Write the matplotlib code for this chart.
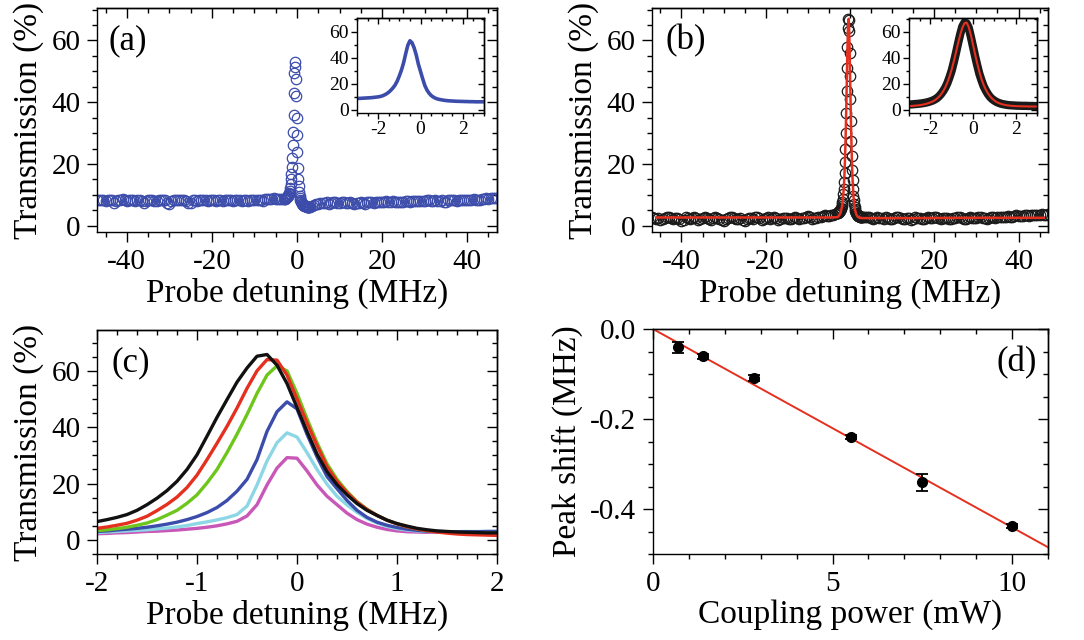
import matplotlib.pyplot as plt
import numpy as np
from matplotlib.ticker import MultipleLocator, NullFormatter, FormatStrFormatter

plt.rcParams.update({
    "font.family": "Liberation Serif",
    "axes.unicode_minus": False,
    "axes.linewidth": 1.0,
})

## parameters
fs_tick = 21
fs_lab = 24
fs_in = 14
fs_tag = 25

c_blue = "#3c4caa"
c_red = "#e5301f"

##----- data -----##

# frequency grids (MHz): coarse wings + fine core around the resonance
det_left = np.arange(-47.0, -3.4, 0.5)      # -47 ... -3.5
det_core = np.round(np.arange(-3.0, 3.05, 0.1), 1)
det_right = np.arange(3.5, 47.1, 0.5)       # 3.5 ... 47

# (a) transmission without coupling beam (%)
a_left = [8.5, 8.3, 8.2, 8.4, 8.0, 8.3, 8.4, 8.2, 7.3, 8.1,
          8.3, 8.5, 8.6, 8.2, 8.1, 8.4, 8.3, 8.2, 8.1, 8.5,
          8.4, 8.1, 7.3, 8.0, 8.2, 8.4, 8.3, 8.1, 8.0, 8.3,
          8.5, 8.2, 8.3, 7.4, 7.2, 8.1, 8.4, 8.3, 8.2, 8.4,
          8.5, 8.2, 8.1, 7.5, 7.4, 8.2, 8.3, 8.1, 8.2, 8.4,
          8.4, 8.2, 8.1, 8.3, 8.2, 8.2, 8.1, 8.4, 8.3, 8.1,
          8.2, 8.3, 8.4, 8.2, 8.1, 8.4, 8.3, 8.2, 8.1, 8.3,
          8.3, 8.1, 8.2, 8.4, 8.3, 8.3, 8.2, 8.5, 8.0, 8.6,
          8.6, 8.8, 8.7, 8.9, 8.6, 8.8, 8.6, 8.7]
a_core = [8.6, 8.7, 8.8, 8.9, 9.0, 9.1, 9.2, 9.3, 9.5, 9.7,
          9.9, 10.2, 10.7, 11.4, 12.3, 13.5, 15.0, 16.8, 19.0, 22.0,
          26.0, 30.5, 36.0, 43.0, 49.5, 53.0, 51.5, 47.5, 42.0, 35.0,
          29.5, 24.0, 18.8, 15.3, 12.8, 11.0, 9.8, 8.9, 8.3, 7.9,
          7.6, 7.3, 7.1, 6.9, 6.8, 6.7, 6.6, 6.5, 6.5, 6.4,
          6.4, 6.3, 6.3, 6.2, 6.2, 6.2, 6.1, 6.1, 6.1, 6.1,
          6.1]
a_right = [6.5, 6.8, 7.0, 7.2, 7.3, 7.4, 7.5, 7.6, 7.2, 7.4,
           7.7, 7.6, 7.5, 7.4, 7.8, 7.7, 7.4, 7.5, 7.6, 7.5,
           7.2, 7.3, 7.5, 7.6, 7.3, 7.2, 7.7, 7.6, 7.6, 7.5,
           7.8, 7.7, 7.7, 7.6, 7.8, 7.9, 7.6, 7.7, 7.9, 7.8,
           7.8, 7.7, 7.7, 7.8, 8.0, 7.9, 7.8, 7.9, 7.9, 8.0,
           8.0, 8.1, 8.1, 8.0, 8.3, 8.2, 8.0, 8.1, 8.2, 8.1,
           8.1, 8.2, 7.6, 7.7, 8.2, 8.3, 8.3, 8.2, 8.1, 8.2,
           8.4, 8.3, 8.3, 8.4, 8.5, 8.4, 8.6, 8.5, 8.4, 8.5,
           8.7, 8.8, 8.9, 8.8, 9.0, 9.0, 9.1, 9.0]

# (b) transmission with coupling beam (%) and Lorentzian fit
b_left = [2.8, 2.4, 2.2, 2.6, 1.8, 2.3, 2.6, 2.9, 3.0, 2.5,
          2.1, 2.4, 2.5, 2.2, 1.5, 2.0, 2.7, 2.5, 2.3, 2.6,
          2.9, 2.4, 1.9, 2.2, 2.4, 2.7, 2.6, 2.3, 2.0, 2.4,
          2.8, 2.5, 2.2, 1.9, 1.6, 2.1, 2.5, 2.8, 2.7, 2.4,
          2.1, 2.3, 2.4, 2.0, 1.7, 2.2, 2.6, 2.4, 2.3, 2.7,
          2.9, 2.5, 2.0, 2.3, 2.5, 2.8, 2.2, 2.4, 2.7, 2.5,
          1.8, 2.2, 2.4, 2.6, 2.6, 2.3, 2.1, 2.4, 2.8, 2.6,
          2.3, 2.5, 2.5, 2.9, 3.2, 2.7, 2.2, 2.5, 2.6, 2.8,
          2.9, 3.1, 3.4, 3.2, 3.2, 3.4, 3.6, 3.8]
b_core = [4.0, 4.1, 4.2, 4.4, 4.5, 4.7, 4.9, 5.2, 5.5, 5.9,
          6.4, 7.0, 7.8, 8.8, 10.2, 12.0, 14.3, 17.0, 20.5, 25.0,
          30.0, 36.5, 43.5, 51.0, 58.0, 64.0, 67.0, 66.5, 63.0, 56.0,
          48.5, 41.0, 34.0, 27.5, 22.5, 18.0, 14.8, 12.0, 9.8, 8.2,
          7.0, 6.0, 5.3, 4.7, 4.3, 4.0, 3.7, 3.5, 3.4, 3.3,
          3.2, 3.1, 3.1, 3.0, 3.0, 3.0, 2.9, 2.9, 2.9, 2.8,
          2.8]
b_right = [2.9, 2.7, 3.0, 2.6, 2.2, 2.4, 2.8, 2.6, 2.4, 2.3,
           2.7, 2.5, 2.1, 2.3, 2.5, 2.7, 2.9, 2.6, 2.3, 2.2,
           2.6, 2.4, 2.0, 2.3, 2.8, 2.6, 2.4, 2.2, 2.2, 2.5,
           2.7, 2.6, 2.5, 2.7, 2.9, 2.5, 2.3, 2.4, 2.6, 2.5,
           2.1, 2.3, 2.4, 2.6, 2.8, 2.7, 2.5, 2.3, 2.2, 2.5,
           2.7, 2.6, 2.4, 2.6, 2.9, 2.7, 2.6, 2.4, 2.3, 2.6,
           2.8, 2.7, 2.5, 2.8, 3.0, 2.9, 2.7, 2.9, 3.2, 3.0,
           2.9, 3.1, 3.4, 3.2, 3.1, 3.3, 3.5, 3.4, 3.3, 3.5,
           3.6, 3.5, 3.4, 3.6, 3.7, 3.6, 3.5, 3.7]
fit_core = [2.8, 2.9, 3.0, 3.2, 3.3, 3.5, 3.8, 4.1, 4.5, 5.0,
            5.6, 6.3, 7.2, 8.4, 9.9, 11.8, 14.2, 17.2, 21.0, 25.6,
            31.0, 37.2, 44.0, 51.0, 57.5, 63.0, 66.5, 67.0, 63.5, 57.5,
            50.0, 42.5, 35.5, 29.0, 23.5, 19.0, 15.5, 12.6, 10.3, 8.5,
            7.1, 6.0, 5.2, 4.6, 4.1, 3.7, 3.4, 3.2, 3.0, 2.9,
            2.8, 2.7, 2.7, 2.6, 2.6, 2.6, 2.5, 2.5, 2.5, 2.5,
            2.5]
fit_left_x = [-46, -30, -15, -8, -5]
fit_left_y = [2.7, 2.7, 2.7, 2.7, 2.7]
fit_right_x = [5, 8, 15, 30, 46]
fit_right_y = [2.5, 2.5, 2.5, 2.6, 2.6]

# (c) spectra for increasing coupling power
det_c = np.round(np.arange(-2.0, 2.05, 0.1), 1)
c_magenta = [2.2, 2.3, 2.5, 2.6, 2.8, 3.0, 3.1, 3.3, 3.5, 3.8,
             4.1, 4.5, 5.0, 5.7, 6.6, 8.5, 12.5, 19.5, 25.5, 29.2,
             29.0, 24.5, 19.5, 15.5, 12.5, 9.5, 7.2, 5.6, 4.5, 3.7,
             3.2, 2.9, 2.8, 2.7, 2.7, 2.7, 2.8, 2.8, 2.8, 2.9, 2.9]
c_cyan = [2.6, 2.8, 3.0, 3.2, 3.4, 3.6, 3.9, 4.2, 4.6, 5.1,
          5.8, 6.4, 7.1, 7.9, 9.0, 12.0, 19.5, 28.0, 34.5, 38.0,
          36.5, 31.0, 25.0, 19.8, 15.5, 12.4, 9.8, 7.6, 6.0, 4.8,
          4.0, 3.5, 3.2, 3.0, 2.9, 2.9, 2.9, 3.0, 3.0, 3.0, 3.0]
c_blue_y = [3.0, 3.2, 3.5, 3.8, 4.1, 4.5, 5.0, 5.6, 6.3, 7.2,
            8.3, 9.7, 11.5, 14.0, 17.3, 21.5, 28.5, 38.5, 45.5, 49.0,
            46.5, 37.5, 29.5, 22.5, 18.2, 14.0, 10.5, 8.0, 6.3, 5.2,
            4.4, 3.8, 3.4, 3.1, 3.0, 2.9, 2.9, 2.9, 2.9, 3.0, 3.0]
c_green = [3.3, 3.6, 4.0, 4.5, 5.2, 6.0, 7.2, 8.8, 10.5, 13.0,
           16.0, 20.2, 25.0, 31.0, 37.5, 44.5, 52.0, 58.5, 61.8, 60.0,
           52.0, 43.0, 34.5, 27.0, 21.5, 17.2, 13.6, 10.9, 8.7, 7.0,
           5.7, 4.7, 3.9, 3.3, 2.9, 2.7, 2.5, 2.4, 2.4, 2.4, 2.4]
c_red_y = [4.1, 4.6, 5.2, 5.9, 7.0, 8.4, 10.4, 12.6, 15.2, 18.6,
           23.0, 28.5, 34.3, 40.3, 46.8, 53.8, 60.0, 64.0, 63.8, 58.5,
           50.0, 41.5, 33.5, 26.0, 20.8, 16.8, 13.4, 10.8, 8.7, 7.0,
           5.7, 4.7, 3.9, 3.3, 2.8, 2.4, 2.1, 1.9, 1.8, 1.7, 1.6]
c_black = [6.5, 7.2, 8.0, 9.0, 10.5, 12.5, 14.8, 17.5, 20.8, 25.0,
           30.2, 36.8, 43.5, 49.8, 56.0, 61.0, 65.2, 65.8, 62.0, 55.5,
           47.0, 38.5, 30.5, 24.2, 19.6, 16.0, 12.9, 10.5, 8.7, 7.0,
           5.8, 4.9, 4.1, 3.6, 3.2, 3.0, 2.8, 2.7, 2.6, 2.5, 2.5]
series_c = [c_magenta, c_cyan, c_blue_y, c_green, c_red_y, c_black]
colors_c = ["#c957b8", "#8dd6e6", "#3c4caa", "#6ec61c", "#e5301f", "#111111"]

# (d) peak shift vs coupling power
power = [0.7, 1.4, 2.8, 5.5, 7.5, 10.0]
shift = [-0.041, -0.061, -0.109, -0.240, -0.341, -0.438]
shift_err = [0.012, 0.005, 0.006, 0.005, 0.018, 0.005]
line_x = [0.0, 11.0]
line_y = [0.0, -0.485]

det_all = np.concatenate([det_left, det_core, det_right])
a_all = np.concatenate([a_left, a_core, a_right])
b_all = np.concatenate([b_left, b_core, b_right])
fit_x = np.concatenate([fit_left_x, det_core, fit_right_x])
fit_y = np.concatenate([fit_left_y, fit_core, fit_right_y])


def frame(ax, xmaj, xmin, ymaj, ymin, fs, L=7, pad=5, fmt="%d"):
    ax.xaxis.set_major_locator(MultipleLocator(xmaj))
    ax.xaxis.set_minor_locator(MultipleLocator(xmin))
    ax.yaxis.set_major_locator(MultipleLocator(ymaj))
    ax.yaxis.set_minor_locator(MultipleLocator(ymin))
    ax.xaxis.set_major_formatter(FormatStrFormatter("%d"))
    ax.yaxis.set_major_formatter(FormatStrFormatter(fmt))
    ax.tick_params(which="major", direction="out", length=L, width=1.0, labelsize=fs, pad=pad)
    ax.tick_params(which="minor", direction="out", length=L / 2, width=1.0)
    top = ax.secondary_xaxis("top")
    rgt = ax.secondary_yaxis("right")
    for sa, axis, maj, mnr in ((top, top.xaxis, xmaj, xmin), (rgt, rgt.yaxis, ymaj, ymin)):
        axis.set_major_locator(MultipleLocator(maj))
        axis.set_minor_locator(MultipleLocator(mnr))
        axis.set_major_formatter(NullFormatter())
        sa.tick_params(which="major", direction="in", length=L, width=1.0)
        sa.tick_params(which="minor", direction="in", length=L / 2, width=1.0)


W, H = 1084, 640
def box(l, t, r, b):
    return [l / W, 1 - b / H, (r - l) / W, (b - t) / H]


fig = plt.figure(figsize=(10.84, 6.4), dpi=100)

## ---- (a) ----
ax1 = fig.add_axes(box(97, 8, 497, 232))
ax1.plot(det_all, a_all, "o", ms=7.5, mfc="none", mec=c_blue, mew=0.9)
ax1.set_xlim(-47, 47)
ax1.set_ylim(-2, 70.5)
frame(ax1, 20, 5, 20, 5, fs_tick)
ax1.set_xlabel("Probe detuning (MHz)", fontsize=fs_lab, labelpad=2)
ax1.set_ylabel("Transmission (%)", fontsize=fs_lab, labelpad=5)
ax1.text(0.078, 0.855, "(a)", transform=ax1.transAxes, fontsize=fs_tag, ha="center", va="center")

in1 = fig.add_axes(box(357, 18, 484, 113))
in1.plot(det_core, a_core, "-", color=c_blue, lw=2.6)
in1.set_xlim(-3, 3)
in1.set_ylim(-2.5, 70.5)
frame(in1, 2, 0.5, 20, 10, fs_in, L=4, pad=2)

## ---- (b) ----
ax2 = fig.add_axes(box(652, 8, 1048, 232))
ax2.plot(det_all, b_all, "o", ms=7.5, mfc="none", mec="#1a1a1a", mew=0.9)
ax2.plot(fit_x, fit_y, "-", color=c_red, lw=1.8)
ax2.set_xlim(-47, 47)
ax2.set_ylim(-2, 70.5)
frame(ax2, 20, 5, 20, 5, fs_tick)
ax2.set_xlabel("Probe detuning (MHz)", fontsize=fs_lab, labelpad=2)
ax2.set_ylabel("Transmission (%)", fontsize=fs_lab, labelpad=5)
ax2.text(0.085, 0.855, "(b)", transform=ax2.transAxes, fontsize=fs_tag, ha="center", va="center")

in2 = fig.add_axes(box(909, 18, 1037, 113))
in2.plot(det_core, b_core, "-", color="#1a1a1a", lw=6, solid_capstyle="butt")
in2.plot(det_core, fit_core, "-", color=c_red, lw=1.5)
in2.set_xlim(-3, 3)
in2.set_ylim(-2.5, 70.5)
frame(in2, 2, 0.5, 20, 10, fs_in, L=4, pad=2)

## ---- (c) ----
ax3 = fig.add_axes(box(97, 330, 497, 554))
for yc, col in zip(series_c, colors_c):
    ax3.plot(det_c, yc, "-", color=col, lw=2.4)
ax3.set_xlim(-2, 2)
ax3.set_ylim(-5, 74.5)
frame(ax3, 1, 0.2, 20, 5, fs_tick)
ax3.set_xlabel("Probe detuning (MHz)", fontsize=fs_lab, labelpad=2)
ax3.set_ylabel("Transmission (%)", fontsize=fs_lab, labelpad=5)
ax3.text(0.085, 0.852, "(c)", transform=ax3.transAxes, fontsize=fs_tag, ha="center", va="center")

## ---- (d) ----
ax4 = fig.add_axes(box(653, 329, 1048, 554))
ax4.plot(line_x, line_y, "-", color=c_red, lw=1.4, zorder=1)
ax4.errorbar(power, shift, yerr=shift_err, fmt="o", color="k", ms=7,
             capsize=4, elinewidth=1.3, capthick=1.3, zorder=2)
ax4.set_xlim(0, 11)
ax4.set_ylim(-0.5, 0)
frame(ax4, 5, 1, 0.2, 0.05, fs_tick, fmt="%.1f")
ax4.set_xlabel("Coupling power (mW)", fontsize=fs_lab, labelpad=2)
ax4.set_ylabel("Peak shift (MHz)", fontsize=fs_lab, labelpad=5)
ax4.text(0.92, 0.848, "(d)", transform=ax4.transAxes, fontsize=fs_tag, ha="center", va="center")

fig.savefig("out.png", dpi=100)
